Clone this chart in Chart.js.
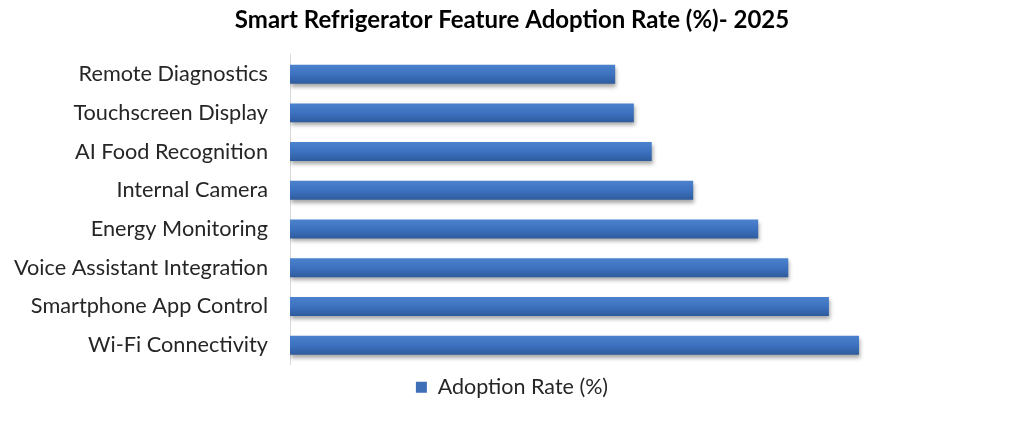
<!DOCTYPE html>
<html>
<head>
<meta charset="utf-8">
<script src="https://cdn.jsdelivr.net/npm/chart.js@4/dist/chart.umd.min.js"></script>
<style>
html,body{margin:0;padding:0;background:#fff;}
#wrap{width:1024px;height:422px;}
</style>
</head>
<body>
<div id="wrap"><canvas id="c" width="1024" height="422"></canvas></div>
<script>
const categories = ["Remote Diagnostics","Touchscreen Display","AI Food Recognition","Internal Camera","Energy Monitoring","Voice Assistant Integration","Smartphone App Control","Wi-Fi Connectivity"];
const adoptionRate = [40, 42.3, 44.5, 49.6, 57.6, 61.3, 66.3, 70];
const seriesName = "Adoption Rate (%)";
const chartTitle = "Smart Refrigerator Feature Adoption Rate (%)- 2025";

function barFill(ctx){
  const chart = ctx.chart;
  const ys = chart.scales && chart.scales.y;
  if(!chart.chartArea || !ys || ctx.dataIndex === undefined) return '#3f70b8';
  const yc = ys.getPixelForValue(ctx.dataIndex);
  const h = 10;
  const g = chart.ctx.createLinearGradient(0, yc - h, 0, yc + h);
  g.addColorStop(0, '#4d82cf');
  g.addColorStop(0.5, '#3d72c0');
  g.addColorStop(1, '#2d5a9b');
  return g;
}

const shadowPlugin = {
  id:'shadow',
  beforeDatasetsDraw(chart){
    const c = chart.ctx; c.save();
    c.shadowColor='rgba(0,0,0,0.35)'; c.shadowBlur=4; c.shadowOffsetX=1; c.shadowOffsetY=3;
  },
  afterDatasetsDraw(chart){ chart.ctx.restore(); }
};

new Chart(document.getElementById('c'), {
  type:'bar',
  data:{ labels:categories, datasets:[{ label:seriesName, data:adoptionRate, backgroundColor:barFill, borderWidth:0, barPercentage:0.49, categoryPercentage:1.0 }]},
  options:{
    indexAxis:'y', responsive:false, animation:false,
    layout:{ padding:{ left:0, right:0, top:0, bottom:14 } },
    scales:{
      x:{ display:false, min:0, max:90.3 },
      y:{ grid:{ display:false, drawTicks:false }, border:{ display:true, color:'#d9d9d9', width:1 },
          ticks:{ padding:22, color:'#262626', font:{ family:'Lato', size:21.7 } },
          afterFit(s){ s.width = 290; } }
    },
    plugins:{
      title:{ display:true, text:chartTitle, color:'#000', font:{ family:'Lato', size:24, weight:'bold' }, padding:{ top:6, bottom:20 } },
      legend:{ position:'bottom', labels:{ boxWidth:11, boxHeight:11, color:'#262626', font:{ family:'Lato', size:21.5 }, padding:12,
        generateLabels(chart){ const l = Chart.defaults.plugins.legend.labels.generateLabels(chart); l.forEach(i=>{ i.fillStyle='#3f6fb6'; i.strokeStyle='#3f6fb6'; i.lineWidth=0; }); return l; } } },
      tooltip:{ enabled:false }
    }
  },
  plugins:[shadowPlugin]
});
</script>
</body>
</html>
